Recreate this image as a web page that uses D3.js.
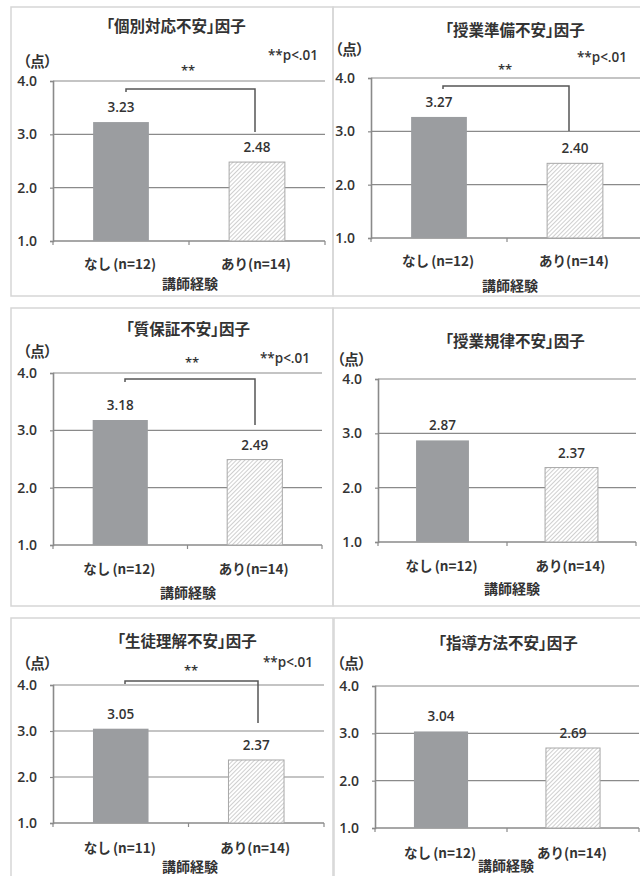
<!DOCTYPE html>
<html>
<head>
<meta charset="utf-8">
<script src="https://cdn.jsdelivr.net/npm/d3@7"></script>
<style>
  html, body { margin: 0; padding: 0; background: #fff; }
  svg { display: block; }
  .jp { font-family: "Noto Sans CJK JP", sans-serif; }
  .palt { font-feature-settings: "palt"; }
  .num { font-family: "Open Sans", "DejaVu Sans", sans-serif; }
</style>
</head>
<body>
<svg id="chart" width="640" height="876"></svg>
<script>
// Factor names for the six panels
const factorNames = ["個別対応不安", "授業準備不安", "質保証不安", "授業規律不安", "生徒理解不安", "指導方法不安"];
// Group labels (teaching experience: none / some)
const groupLabels = ["なし\u2006(", "あり("];
// Mean scores per factor
const noExpMeans = [3.23, 3.27, 3.18, 2.87, 3.05, 3.04];
const expMeans   = [2.48, 2.40, 2.49, 2.37, 2.37, 2.69];
// Sample sizes per group
const noExpN = [12, 12, 12, 12, 11, 12];
const expN   = [14, 14, 14, 14, 14, 14];
// Whether the difference is significant (**p<.01)
const significant = [true, true, true, false, true, false];
// Y axis ticks
const yTickValues = [1.0, 2.0, 3.0, 4.0];
const yDomain = [1, 4];
const unitLabel = "（点）";
const xAxisTitle = "講師経験";
const pNote = "**p<.01";
const sigMark = "**";

// Panel geometry (frame, plot extent, text anchors)
const layout = [
  { box: [11, 7, 333, 296],   x: [53, 325],  y: [241, 81],  title: [176, 25],  unit: [23, 60],  note: [318, 55],  star: [188, 68],  br: { l: 126, r: 255, top: 89,  bottom: 132 }, xl: 263, xt: [190, 283] },
  { box: [333, 7, 700, 296],  x: [371, 643], y: [238, 78],  title: [515, 29],  unit: [335, 48], note: [627, 57],  star: [505, 67],  br: { l: 443, r: 569, top: 86,  bottom: 131 }, xl: 260, xt: [510, 285] },
  { box: [11, 308, 333, 606], x: [53, 322],  y: [545, 373], title: [188, 328], unit: [23, 350], note: [310, 358], star: [192, 360], br: { l: 125, r: 255, top: 379, bottom: 425 }, xl: 568, xt: [188, 592] },
  { box: [333, 308, 700, 606],x: [378, 636], y: [542, 379], title: [515, 340], unit: [337, 358], xl: 565, xt: [512, 588] },
  { box: [11, 618, 333, 900], x: [53, 324],  y: [823, 685], title: [187, 640], unit: [23, 662], note: [313, 662], star: [191, 668], br: { l: 125, r: 258, top: 681, bottom: 723 }, xl: 847, xt: [190, 866] },
  { box: [334, 618, 700, 900],x: [375, 639], y: [828, 686], title: [508, 642], unit: [337, 662], xl: 852, xt: [506, 865] }
];

const textColor = "#333333";
const gridColor = "#8a8a8a";
const barColor = "#9b9da0";

const svg = d3.select("#chart");

// Fine diagonal hatch for the "あり" bars
const defs = svg.append("defs");
const pat = defs.append("pattern")
  .attr("id", "hatch")
  .attr("patternUnits", "userSpaceOnUse")
  .attr("width", 3).attr("height", 3)
  .attr("patternTransform", "rotate(45)");
pat.append("rect").attr("width", 3).attr("height", 3).attr("fill", "#fff");
pat.append("line").attr("x1", 0).attr("y1", 0).attr("x2", 0).attr("y2", 3)
  .attr("stroke", "#949494").attr("stroke-width", 0.9);

factorNames.forEach((name, i) => {
  const L = layout[i];
  const g = svg.append("g");

  // frame
  g.append("rect")
    .attr("x", L.box[0]).attr("y", L.box[1])
    .attr("width", L.box[2] - L.box[0]).attr("height", L.box[3] - L.box[1])
    .attr("fill", "none").attr("stroke", "#d6d6d6").attr("stroke-width", 1.5);

  const values = [noExpMeans[i], expMeans[i]];
  const ns = [noExpN[i], expN[i]];

  const x = d3.scaleBand().domain([0, 1]).range(L.x).padding(0);
  const y = d3.scaleLinear().domain(yDomain).range(L.y);
  const barW = x.bandwidth() * 0.41;

  // gridlines
  g.selectAll(".grid").data(yTickValues.filter(v => v > yDomain[0])).join("line")
    .attr("x1", L.x[0]).attr("x2", L.x[1])
    .attr("y1", d => y(d)).attr("y2", d => y(d))
    .attr("stroke", gridColor).attr("stroke-width", 1.2);

  // y axis
  const yAxis = g.append("g").attr("transform", `translate(${L.x[0]},0)`)
    .call(d3.axisLeft(y).tickValues(yTickValues).tickFormat(d3.format(".1f")).tickSize(3).tickPadding(13));
  yAxis.select(".domain").attr("stroke", gridColor).attr("stroke-width", 1.6);
  yAxis.selectAll(".tick line").attr("stroke", gridColor).attr("stroke-width", 1.2);
  yAxis.selectAll(".tick text")
    .attr("class", "num").attr("fill", textColor)
    .style("font-size", "14px").style("font-weight", "600");

  // x axis baseline with boundary ticks
  g.append("line")
    .attr("x1", L.x[0]).attr("x2", L.x[1])
    .attr("y1", y(yDomain[0])).attr("y2", y(yDomain[0]))
    .attr("stroke", gridColor).attr("stroke-width", 1.6);
  g.selectAll(".xtick").data([0, 1, 2]).join("line")
    .attr("x1", d => L.x[0] + d * x.step()).attr("x2", d => L.x[0] + d * x.step())
    .attr("y1", y(yDomain[0])).attr("y2", y(yDomain[0]) + 4)
    .attr("stroke", gridColor).attr("stroke-width", 1.2);

  // bars
  g.selectAll(".bar").data(values).join("rect")
    .attr("x", (d, k) => x(k) + (x.bandwidth() - barW) / 2)
    .attr("width", barW)
    .attr("y", d => y(d))
    .attr("height", d => y(yDomain[0]) - y(d))
    .attr("fill", (d, k) => k === 0 ? barColor : "url(#hatch)")
    .attr("stroke", (d, k) => k === 0 ? "none" : "#a8a8a8")
    .attr("stroke-width", 1);

  // value labels
  g.selectAll(".val").data(values).join("text")
    .attr("class", "num")
    .attr("x", (d, k) => x(k) + x.bandwidth() / 2)
    .attr("y", d => y(d) - 15)
    .attr("text-anchor", "middle").attr("dominant-baseline", "central")
    .attr("fill", textColor)
    .style("font-size", "13.5px").style("font-weight", "600")
    .text(d => d.toFixed(2));

  // category labels
  g.selectAll(".cat").data(groupLabels).join("text")
    .attr("class", "jp")
    .attr("x", (d, k) => x(k) + x.bandwidth() / 2 - 1)
    .attr("y", L.xl)
    .attr("text-anchor", "middle").attr("dominant-baseline", "central")
    .attr("fill", textColor)
    .style("font-size", "13.5px").style("font-weight", "700")
    .text((d, k) => `${d}n=${ns[k]})`);

  // axis title
  g.append("text").attr("class", "jp")
    .attr("x", L.xt[0]).attr("y", L.xt[1])
    .attr("text-anchor", "middle").attr("dominant-baseline", "central")
    .attr("fill", textColor)
    .style("font-size", "14px").style("font-weight", "700")
    .text(xAxisTitle);

  // chart title
  g.append("text").attr("class", "jp palt")
    .attr("x", L.title[0]).attr("y", L.title[1])
    .attr("text-anchor", "middle").attr("dominant-baseline", "central")
    .attr("fill", textColor)
    .style("font-size", "15.5px").style("font-weight", "700")
    .text(`「${name}」因子`);

  // unit label
  g.append("text").attr("class", "jp palt")
    .attr("x", L.unit[0]).attr("y", L.unit[1])
    .attr("dominant-baseline", "central")
    .attr("fill", textColor)
    .style("font-size", "14.5px").style("font-weight", "700")
    .text(unitLabel);

  if (significant[i]) {
    g.append("text").attr("class", "num")
      .attr("x", L.note[0]).attr("y", L.note[1])
      .attr("text-anchor", "end").attr("dominant-baseline", "central")
      .attr("fill", textColor)
      .style("font-size", "13.5px").style("font-weight", "600")
      .text(pNote);

    g.append("text").attr("class", "num")
      .attr("x", L.star[0]).attr("y", L.star[1] + 2)
      .attr("text-anchor", "middle").attr("dominant-baseline", "central")
      .attr("fill", textColor)
      .style("font-size", "13px").style("font-weight", "600")
      .text(sigMark);

    const b = L.br;
    g.append("path")
      .attr("d", `M${b.l},${b.top + 3}V${b.top}H${b.r}V${b.bottom}`)
      .attr("fill", "none").attr("stroke", "#555").attr("stroke-width", 1.5);
  }
});
</script>
</body>
</html>
